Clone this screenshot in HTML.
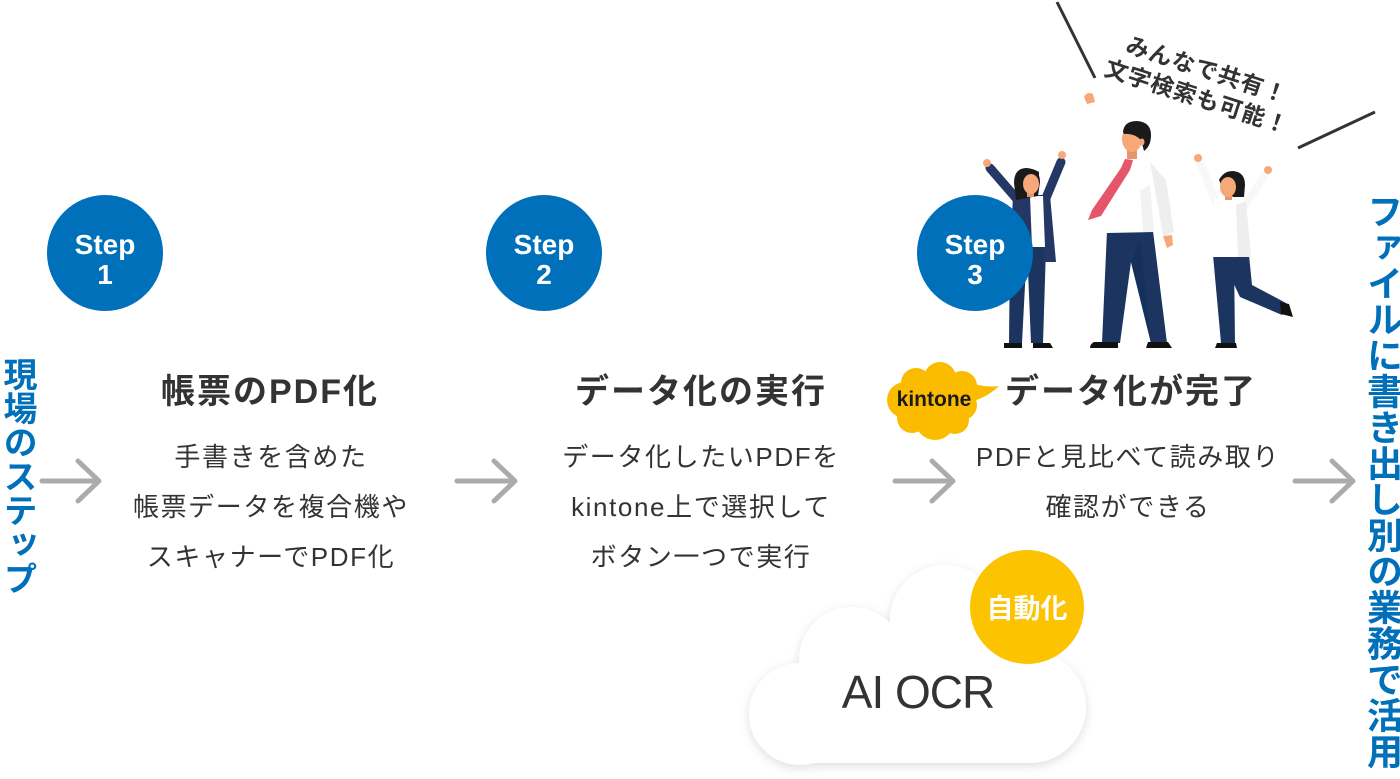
<!DOCTYPE html>
<html lang="ja">
<head>
<meta charset="utf-8">
<style>
  html,body{margin:0;padding:0;background:#fff;}
  body{width:1400px;height:779px;position:relative;overflow:hidden;
       font-family:"Liberation Sans","Noto Sans CJK JP",sans-serif;color:#333;}
  svg{position:absolute;left:0;top:0;}
  .title{position:absolute;width:400px;text-align:center;font-size:34px;font-weight:700;
         line-height:40px;letter-spacing:2px;color:#333;white-space:nowrap;}
  .body{position:absolute;width:400px;text-align:center;font-size:26px;font-weight:400;
        line-height:50px;letter-spacing:1.6px;color:#333;white-space:nowrap;}
  .vt{position:absolute;writing-mode:vertical-rl;text-orientation:upright;font-weight:700;
      color:#0070BA;white-space:nowrap;}
</style>
</head>
<body>
<svg width="1400" height="779" viewBox="0 0 1400 779" xmlns="http://www.w3.org/2000/svg">
  <defs>
    <filter id="sh" x="-20%" y="-20%" width="140%" height="140%">
      <feDropShadow dx="0" dy="3" stdDeviation="5" flood-color="#000" flood-opacity="0.13"/>
    </filter>
  </defs>

  <!-- speech lines -->
  <line x1="1057" y1="2" x2="1095" y2="78" stroke="#333" stroke-width="3"/>
  <line x1="1375" y1="112" x2="1298" y2="148" stroke="#333" stroke-width="3"/>

  <!-- quote text -->
  <g font-family="Liberation Sans, Noto Sans CJK JP, sans-serif" font-weight="700" font-size="23" fill="#333" style="letter-spacing:1px">
    <g transform="translate(1207,69.5) rotate(18)"><text x="0" y="8.5" text-anchor="middle">みんなで共有！</text></g>
    <g transform="translate(1197,96.5) rotate(18)"><text x="0" y="8.5" text-anchor="middle">文字検索も可能！</text></g>
  </g>

  <!-- ===== People ===== -->
  <!-- Man -->
  <g>
    <path d="M1084,97 q3,-6 9,-3 l2,8 l-8,2 z" fill="#f6a878"/>
    <path d="M1107,231 L1153,231 L1167,343 L1151,343 L1131,262 L1120,343 L1102,343 Z" fill="#1b3560"/>
    <path d="M1131,262 L1140,240 L1151,343 Z" fill="#15305a"/>
    <path d="M1094,342 L1118,342 L1118,348 L1090,348 Q1090,344 1094,342 Z" fill="#111"/>
    <path d="M1148,342 L1168,342 L1172,348 L1146,348 Z" fill="#111"/>
    <path d="M1118,160 L1140,155 L1152,160 L1166,180 L1174,232 L1171,240 L1163,240 L1158,205 L1154,232 L1107,233 L1108,190 Z" fill="#ffffff"/>
    <path d="M1150,162 L1166,180 L1174,232 L1163,236 L1156,195 Z" fill="#eeeeee"/>
    <path d="M1140,190 L1150,185 L1154,232 L1143,232 Z" fill="#f2f2f2"/>
    <path d="M1163,236 L1172,235 L1173,245 L1167,248 Z" fill="#f6a878"/>
    <rect x="1127" y="146" width="10" height="13" fill="#e9956a"/>
    <ellipse cx="1132" cy="139" rx="10" ry="13" fill="#f6a878"/>
    <path d="M1123,132 Q1124,121 1137,121 Q1151,122 1151,135 Q1151,146 1144,151 L1141,140 Q1134,133 1124,134 Z" fill="#1a1a1a"/>
    <ellipse cx="1142" cy="142" rx="2.5" ry="3.5" fill="#f6a878"/>
    <path d="M1125,159 L1133,160 L1130,170 L1101,216 L1088,220 L1092,210 L1121,168 Z" fill="#e5566a"/>
  </g>

  <!-- Woman left -->
  <g>
    <line x1="1016" y1="198" x2="990" y2="168" stroke="#253764" stroke-width="9" stroke-linecap="round"/>
    <circle cx="987" cy="163" r="4" fill="#f6a878"/>
    <line x1="1046" y1="198" x2="1061" y2="162" stroke="#253764" stroke-width="9" stroke-linecap="round"/>
    <circle cx="1062" cy="155" r="4" fill="#f6a878"/>
    <path d="M1010,247 L1027,247 L1022,343 L1009,343 Z" fill="#1b3560"/>
    <path d="M1027,247 L1046,247 L1043,343 L1031,343 Z" fill="#1b3560"/>
    <path d="M1004,343 L1022,343 L1022,348 L1004,348 Z" fill="#111"/>
    <path d="M1033,343 L1050,343 L1053,348 L1033,348 Z" fill="#111"/>
    <path d="M1013,195 L1050,195 L1056,262 L1044,262 L1043,247 L1030,247 L1022,262 L1010,262 Z" fill="#253764"/>
    <path d="M1030,196 L1043,196 L1045,247 L1032,247 Z" fill="#ffffff"/>
    <path d="M1014,183 Q1014,168 1027,168 Q1040,169 1040,182 L1038,196 L1016,200 Z" fill="#1a1a1a"/>
    <rect x="1027" y="188" width="7" height="9" fill="#e9956a"/>
    <ellipse cx="1031" cy="184" rx="8" ry="10" fill="#f6a878"/>
    <path d="M1022,176 Q1030,169 1039,176 L1039,172 Q1030,166 1021,172 Z" fill="#1a1a1a"/>
  </g>

  <!-- Woman right -->
  <g>
    <line x1="1217" y1="205" x2="1200" y2="162" stroke="#f8f8f8" stroke-width="8" stroke-linecap="round"/>
    <circle cx="1198" cy="158" r="4" fill="#f6a878"/>
    <line x1="1245" y1="205" x2="1265" y2="175" stroke="#f8f8f8" stroke-width="8" stroke-linecap="round"/>
    <circle cx="1268" cy="170" r="4" fill="#f6a878"/>
    <path d="M1213,255 L1234,255 L1235,343 L1221,343 Z" fill="#1b3560"/>
    <path d="M1228,255 L1249,255 L1252,285 L1286,303 L1282,315 L1240,297 L1232,280 Z" fill="#1b3560"/>
    <path d="M1217,343 L1236,343 L1237,348 L1215,348 Z" fill="#111"/>
    <path d="M1280,302 L1289,304 L1293,317 L1281,314 Z" fill="#111"/>
    <path d="M1214,199 L1245,199 L1250,257 L1212,257 Z" fill="#ffffff"/>
    <path d="M1236,205 L1246,201 L1251,257 L1238,257 Z" fill="#eeeeee"/>
    <path d="M1220,183 Q1221,171 1233,171 Q1245,172 1245,185 L1244,197 L1233,197 Z" fill="#1a1a1a"/>
    <rect x="1225" y="190" width="7" height="10" fill="#e9956a"/>
    <ellipse cx="1228" cy="187" rx="8" ry="10" fill="#f6a878"/>
    <path d="M1220,182 Q1224,173 1236,176 L1236,172 Q1224,170 1219,180 Z" fill="#1a1a1a"/>
  </g>

  <!-- Step circles -->
  <circle cx="105" cy="253" r="58" fill="#0070BA"/>
  <circle cx="544" cy="253" r="58" fill="#0070BA"/>
  <circle cx="975" cy="253" r="58" fill="#0070BA"/>
  <g font-family="Liberation Sans, Noto Sans CJK JP, sans-serif" font-weight="700" font-size="28" fill="#fff" text-anchor="middle">
    <text x="105" y="254">Step</text><text x="105" y="284">1</text>
    <text x="544" y="254">Step</text><text x="544" y="284">2</text>
    <text x="975" y="254">Step</text><text x="975" y="284">3</text>
  </g>

  <!-- Arrows -->
  <g fill="none" stroke="#ababab" stroke-width="5" stroke-linecap="round" stroke-linejoin="round">
    <path d="M42,481 H99 M78,461 L99,481 L78,501"/>
    <path d="M457,481 H515 M494,461 L515,481 L494,501"/>
    <path d="M895,481 H953 M932,461 L953,481 L932,501"/>
    <path d="M1295,481 H1353 M1332,461 L1353,481 L1332,501"/>
  </g>

  <!-- Cloud -->
  <g fill="#ffffff" filter="url(#sh)">
    <circle cx="800" cy="714" r="51"/>
    <circle cx="852" cy="660" r="53"/>
    <circle cx="945" cy="620" r="55"/>
    <circle cx="1000" cy="660" r="50"/>
    <circle cx="1030" cy="707" r="56"/>
    <circle cx="930" cy="680" r="60"/>
    <rect x="800" y="690" width="232" height="73"/>
  </g>
  <text x="918" y="708" text-anchor="middle" font-family="Liberation Sans, Noto Sans CJK JP, sans-serif" font-size="46" fill="#333" style="letter-spacing:-1px">AI OCR</text>

  <!-- Yellow circle -->
  <circle cx="1027" cy="607" r="57" fill="#FCC300"/>
  <text x="1027" y="618" text-anchor="middle" font-family="Liberation Sans, Noto Sans CJK JP, sans-serif" font-weight="700" font-size="27" fill="#fff">自動化</text>

  <!-- kintone logo -->
  <g fill="#FBBC00">
    <circle cx="905" cy="400" r="18"/>
    <circle cx="916" cy="383" r="15"/>
    <circle cx="940" cy="378" r="16"/>
    <circle cx="962" cy="386" r="15"/>
    <circle cx="962" cy="405" r="15"/>
    <circle cx="935" cy="420" r="20"/>
    <circle cx="912" cy="418" r="15"/>
    <circle cx="955" cy="420" r="14"/>
    <circle cx="935" cy="400" r="22"/>
    <path d="M968,382 Q985,388 999,386 Q989,396 974,401 Z"/>
  </g>
  <text x="934" y="406" text-anchor="middle" font-family="Liberation Sans, sans-serif" font-weight="700" font-size="21" fill="#1a1a1a">kintone</text>
</svg>

<!-- Vertical headings -->
<div class="vt" style="left:0;top:357px;font-size:34px;line-height:34px;width:34px;">現場のステップ</div>
<div class="vt" style="left:1364px;top:193px;font-size:36px;line-height:36px;width:36px;">ファイルに書き出し別の業務で活用</div>

<!-- Step 1 -->
<div class="title" style="left:70px;top:372px;">帳票のPDF化</div>
<div class="body" style="left:71px;top:432px;">手書きを含めた<br>帳票データを複合機や<br>スキャナーでPDF化</div>

<!-- Step 2 -->
<div class="title" style="left:501px;top:372px;">データ化の実行</div>
<div class="body" style="left:501px;top:432px;">データ化したいPDFを<br>kintone上で選択して<br>ボタン一つで実行</div>

<!-- Step 3 -->
<div class="title" style="left:931px;top:372px;">データ化が完了</div>
<div class="body" style="left:928px;top:432px;">PDFと見比べて読み取り<br>確認ができる</div>
</body>
</html>
